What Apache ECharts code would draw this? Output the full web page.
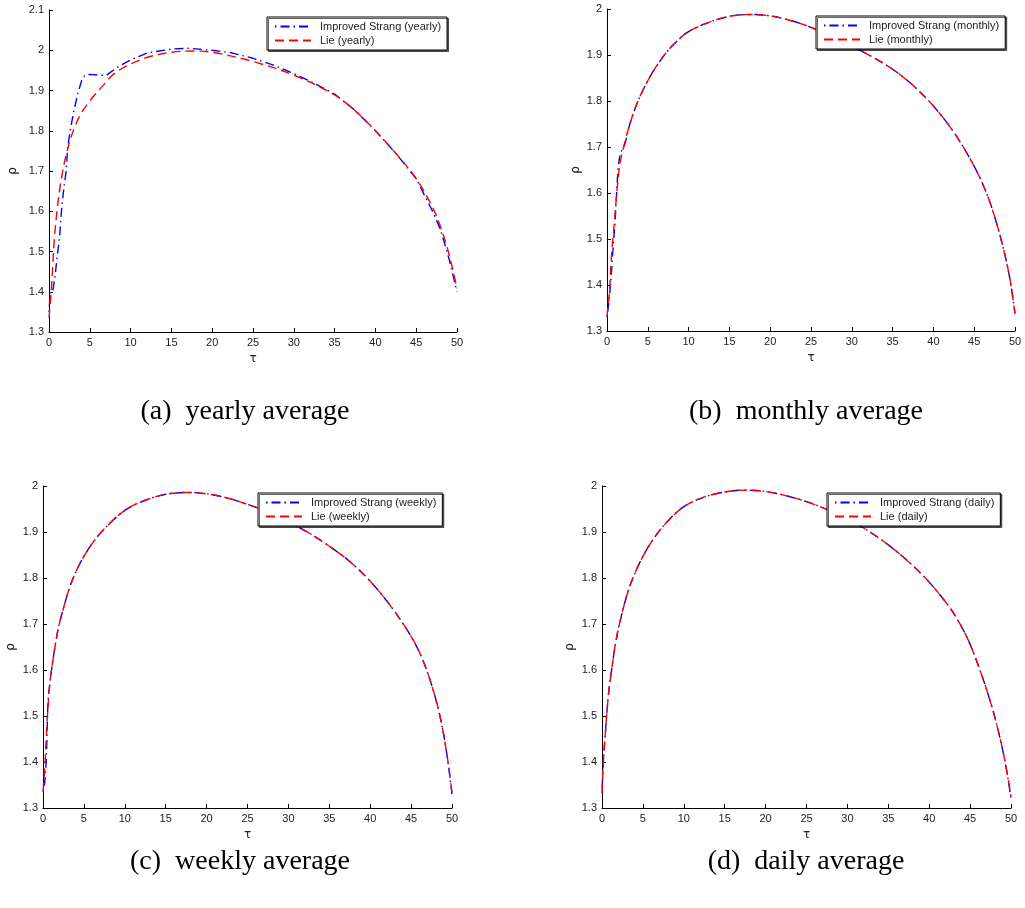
<!DOCTYPE html>
<html>
<head>
<meta charset="utf-8">
<script src="https://cdn.jsdelivr.net/npm/echarts@6/dist/echarts.min.js"></script>
<style>
html,body{margin:0;padding:0;background:#fff;}
#chart{width:1025px;height:908px;}
</style>
</head>
<body>
<div id="chart"></div>
<script>
// ---- Data ----
// (a) yearly
const tauStrangA = [0, 0.15, 0.45, 0.75, 1.0, 1.3, 1.5, 1.75, 2.1, 2.3, 2.6, 3.0, 3.5, 4.0, 4.4, 5.0, 7.0, 8.3, 10, 12, 15, 17, 20, 22.5, 25, 27.5, 30, 32.5, 35, 37.5, 40, 42.5, 45, 47, 48, 49, 50];
const rhoStrangA = [1.35, 1.40, 1.40, 1.44, 1.487, 1.537, 1.595, 1.645, 1.70, 1.76, 1.80, 1.845, 1.89, 1.925, 1.938, 1.94, 1.937, 1.957, 1.976, 1.993, 2.003, 2.005, 2.0, 1.993, 1.98, 1.963, 1.942, 1.918, 1.891, 1.851, 1.80, 1.744, 1.681, 1.60, 1.553, 1.484, 1.40];
const tauLieA = [0, 0.25, 0.45, 0.65, 0.95, 1.3, 1.7, 2.1, 2.6, 3.1, 3.8, 4.8, 5.6, 6.7, 8, 10, 12.5, 15, 17.5, 20, 25, 30, 35, 37.5, 40, 42.5, 45, 47, 48, 49, 50];
const rhoLieA = [1.335, 1.397, 1.462, 1.53, 1.595, 1.653, 1.702, 1.74, 1.777, 1.807, 1.838, 1.869, 1.889, 1.914, 1.942, 1.966, 1.985, 1.995, 1.998, 1.995, 1.972, 1.938, 1.889, 1.85, 1.80, 1.744, 1.681, 1.61, 1.56, 1.495, 1.408];
// (b) monthly
const tauStrangB = [0, 0.16, 0.45, 0.7, 1.0, 1.18, 1.39, 1.67, 2.2, 2.8, 3.8, 5.0, 6.0, 7.3, 8.5, 10, 12.5, 15, 17.5, 20, 22.5, 25, 27.5, 30, 32.5, 35, 37.5, 40, 42.5, 45, 46.5, 47.7, 48.9, 49.5, 50];
const rhoStrangB = [1.33, 1.353, 1.404, 1.469, 1.541, 1.60, 1.657, 1.687, 1.707, 1.75, 1.80, 1.844, 1.874, 1.906, 1.929, 1.951, 1.971, 1.984, 1.988, 1.985, 1.975, 1.96, 1.941, 1.919, 1.896, 1.869, 1.834, 1.789, 1.732, 1.658, 1.600, 1.537, 1.455, 1.40, 1.338];
const tauLieB = [0, 0.15, 0.29, 0.57, 0.86, 1.27, 1.6, 1.96, 2.8, 3.8, 5.0, 6.0, 7.3, 8.5, 10, 12.5, 15, 17.5, 20, 22.5, 25, 27.5, 30, 32.5, 35, 37.5, 40, 42.5, 45, 46.5, 47.7, 48.9, 49.5, 50];
const rhoLieB = [1.331, 1.36, 1.383, 1.469, 1.527, 1.614, 1.665, 1.694, 1.75, 1.80, 1.844, 1.874, 1.906, 1.929, 1.951, 1.971, 1.984, 1.988, 1.985, 1.975, 1.96, 1.941, 1.919, 1.896, 1.869, 1.834, 1.789, 1.732, 1.658, 1.600, 1.537, 1.455, 1.40, 1.338];
// (c) weekly
const tauStrangC = [0, 0.2, 0.41, 0.61, 0.82, 1.22, 1.84, 2.45, 3.27, 4.08, 5.0, 6.1, 7.35, 10, 12.5, 15, 17.5, 20, 22.5, 25, 27.5, 30, 32.5, 35, 37.5, 40, 42.5, 45, 46.3, 47.5, 48.6, 49.4, 50];
const rhoStrangC = [1.336, 1.354, 1.412, 1.528, 1.568, 1.622, 1.688, 1.731, 1.78, 1.816, 1.847, 1.877, 1.904, 1.947, 1.969, 1.982, 1.986, 1.983, 1.974, 1.96, 1.943, 1.922, 1.898, 1.869, 1.836, 1.793, 1.739, 1.673, 1.627, 1.568, 1.494, 1.414, 1.33];
const tauLieC = [0, 0.2, 0.49, 0.82, 1.22, 1.84, 2.45, 3.27, 4.08, 5.0, 6.1, 7.35, 10, 12.5, 15, 17.5, 20, 22.5, 25, 27.5, 30, 32.5, 35, 37.5, 40, 42.5, 45, 46.3, 47.5, 48.6, 49.4, 50];
const rhoLieC = [1.336, 1.383, 1.485, 1.568, 1.622, 1.688, 1.731, 1.78, 1.816, 1.847, 1.877, 1.904, 1.947, 1.969, 1.982, 1.986, 1.983, 1.974, 1.96, 1.943, 1.922, 1.898, 1.869, 1.836, 1.793, 1.739, 1.673, 1.627, 1.568, 1.494, 1.414, 1.333];
// (d) daily
const tauD = [0, 0.16, 0.41, 0.77, 1.18, 1.79, 2.4, 3.22, 4.04, 5.0, 6.3, 7.9, 10, 12.5, 15, 17.5, 20, 22.5, 25, 27.5, 30, 32.5, 35, 37.5, 40, 42.5, 43.8, 44.9, 46.2, 47.5, 48.5, 49.3, 50];
const rhoStrangD = [1.333, 1.398, 1.463, 1.543, 1.601, 1.671, 1.72, 1.773, 1.811, 1.847, 1.885, 1.921, 1.955, 1.976, 1.987, 1.991, 1.988, 1.979, 1.966, 1.949, 1.928, 1.903, 1.872, 1.835, 1.791, 1.736, 1.699, 1.660, 1.600, 1.530, 1.464, 1.398, 1.322];
const rhoLieD = [1.333, 1.398, 1.463, 1.543, 1.601, 1.671, 1.72, 1.773, 1.811, 1.847, 1.885, 1.921, 1.955, 1.976, 1.987, 1.991, 1.988, 1.979, 1.966, 1.949, 1.928, 1.903, 1.872, 1.835, 1.791, 1.736, 1.699, 1.660, 1.600, 1.530, 1.464, 1.398, 1.325];

const periods = ['yearly', 'monthly', 'weekly', 'daily'];
const captions = ['(a)  yearly average', '(b)  monthly average', '(c)  weekly average', '(d)  daily average'];
const xTicks = {min: 0, max: 50, interval: 5};
const yMaxes = [2.1, 2.0, 2.0, 2.0];

// ---- Layout ----
const grids = [
  {left: 49, top: 10, width: 408, height: 322},
  {left: 607, top: 9, width: 408, height: 322},
  {left: 43, top: 486, width: 409, height: 322},
  {left: 602, top: 486, width: 409, height: 322}
];
const legendPos = [
  {left: 267, top: 17},
  {left: 816, top: 16},
  {left: 258, top: 493},
  {left: 827, top: 493}
];
const captionPos = [[245, 412], [806, 412], [240, 862], [806, 862]];
const yNameGap = [30, 25, 26, 26];

const zip = (a, b) => a.map((v, i) => [v, b[i]]);
const strangData = [zip(tauStrangA, rhoStrangA), zip(tauStrangB, rhoStrangB), zip(tauStrangC, rhoStrangC), zip(tauD, rhoStrangD)];
const lieData = [zip(tauLieA, rhoLieA), zip(tauLieB, rhoLieB), zip(tauLieC, rhoLieC), zip(tauD, rhoLieD)];

const labelFont = {fontFamily: 'Liberation Sans, Arial, sans-serif', fontSize: 11, color: '#222'};
const blueDash = [1.5, 4, 9, 4];
const redDash = [9, 5];

const xAxes = [], yAxes = [], series = [], legends = [], graphics = [];
for (let i = 0; i < 4; i++) {
  xAxes.push({
    type: 'value', gridIndex: i, min: xTicks.min, max: xTicks.max, interval: xTicks.interval,
    name: 'τ', nameLocation: 'middle', nameGap: 21,
    nameTextStyle: {fontFamily: 'DejaVu Sans, sans-serif', fontSize: 12, color: '#222'},
    axisLine: {show: true, lineStyle: {color: '#000', width: 1}},
    axisTick: {show: true, inside: true, length: 4, lineStyle: {color: '#000'}},
    axisLabel: Object.assign({margin: 5}, labelFont),
    splitLine: {show: false}
  });
  yAxes.push({
    type: 'value', gridIndex: i, min: 1.3, max: yMaxes[i], interval: 0.1,
    name: 'ρ', nameLocation: 'middle', nameGap: yNameGap[i],
    nameTextStyle: {fontFamily: 'DejaVu Sans, sans-serif', fontSize: 12, color: '#222'},
    axisLine: {show: true, lineStyle: {color: '#000', width: 1}},
    axisTick: {show: true, inside: true, length: 4, lineStyle: {color: '#000'}},
    axisLabel: Object.assign({margin: 5, formatter: v => String(Math.round(v * 10) / 10)}, labelFont),
    splitLine: {show: false}
  });
  const sName = 'Improved Strang (' + periods[i] + ')';
  const lName = 'Lie (' + periods[i] + ')';
  series.push({
    name: sName, type: 'line', xAxisIndex: i, yAxisIndex: i, data: strangData[i],
    showSymbol: false, symbol: 'none', smooth: i === 0 ? false : 0.35,
    lineStyle: {color: '#0000ff', width: 1.4, type: blueDash}, itemStyle: {color: '#0000ff'},
    animation: false, z: 2
  });
  series.push({
    name: lName, type: 'line', xAxisIndex: i, yAxisIndex: i, data: lieData[i],
    showSymbol: false, symbol: 'none', smooth: 0.35,
    lineStyle: {color: '#ff0000', width: 1.4, type: redDash}, itemStyle: {color: '#ff0000'},
    animation: false, z: 3
  });
  legends.push({
    data: [sName, lName], orient: 'vertical', left: legendPos[i].left, top: legendPos[i].top,
    backgroundColor: '#fff', borderColor: '#000', borderWidth: 1,
    shadowColor: 'rgba(0,0,0,0.6)', shadowOffsetX: 1.5, shadowOffsetY: 1.5, shadowBlur: 0,
    padding: [4, 6, 4, 7], itemGap: 3, itemWidth: 36, itemHeight: 11,
    itemStyle: {opacity: 0, borderWidth: 0},
    textStyle: Object.assign({padding: [0, 0, 0, 4]}, labelFont),
    selectedMode: false
  });
  graphics.push({
    type: 'text', x: captionPos[i][0], y: captionPos[i][1],
    style: {text: captions[i], fill: '#000', font: '28px "Liberation Serif", "Times New Roman", serif',
            textAlign: 'center', textVerticalAlign: 'middle'}
  });
}

const chart = echarts.init(document.getElementById('chart'), null, {renderer: 'canvas'});
chart.setOption({
  backgroundColor: '#fff',
  animation: false,
  grid: grids,
  xAxis: xAxes,
  yAxis: yAxes,
  legend: legends,
  series: series,
  graphic: graphics
});
</script>
</body>
</html>
